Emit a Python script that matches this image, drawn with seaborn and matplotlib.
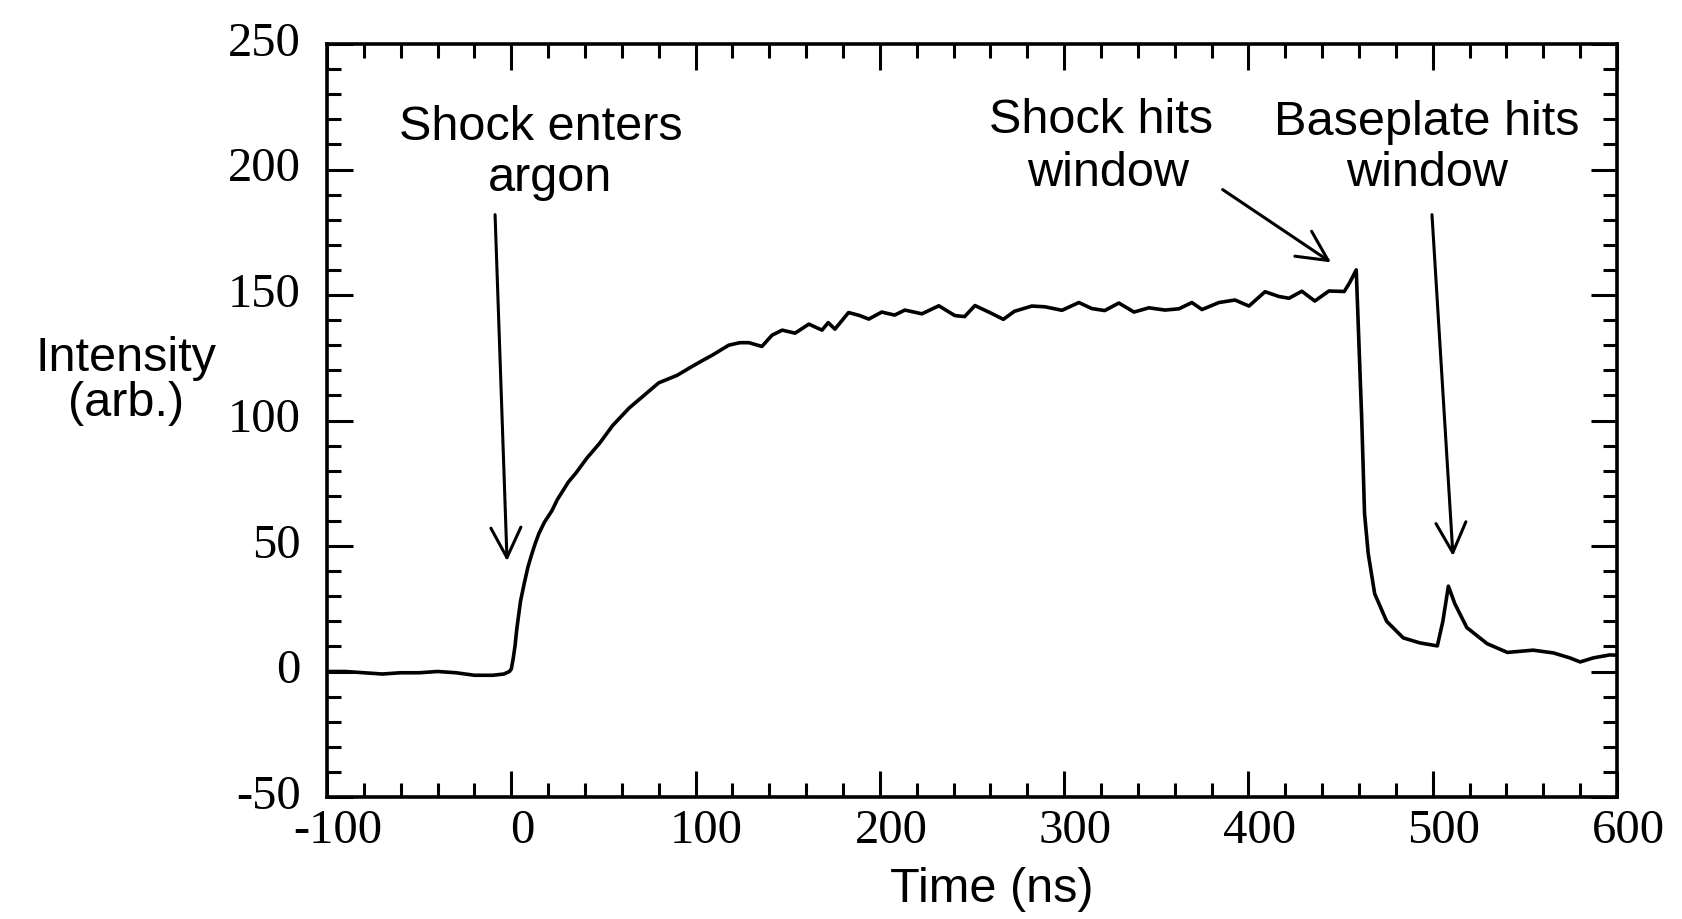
import numpy as np
import pandas as pd
import matplotlib
matplotlib.use("Agg")
import matplotlib.pyplot as plt
import matplotlib.transforms as mtransforms
from matplotlib.ticker import MultipleLocator
import seaborn as sns

# ---------------- data ----------------
time_ns = [-100, -90, -80, -70, -60, -50, -40, -30, -20, -10, -4, -1,
           0, 1, 2, 3, 5, 7, 9, 11, 13, 15, 18, 22, 25, 28, 31, 35, 41, 48,
           55, 64, 72, 80, 90,
           98, 104, 109, 118, 124, 129, 136, 141.5, 147, 154, 161.5, 168.6,
           172, 175.6, 183, 188.7, 194, 201, 208, 213.6, 222.8, 232, 240.7,
           246, 251.6, 260.8, 267, 273, 282.5, 289.6, 298.8, 308, 315, 322,
           329.7, 337.9, 346, 354.7, 362.3, 369.3, 374.8, 384, 392.7, 400.3,
           409, 416.6, 422, 429, 436, 443.7, 452, 455, 458.5, 459.5, 461.5,
           463, 465, 468.5, 475, 484, 493, 502.5, 505.5, 508.5, 512, 518.5,
           529.5, 540.5, 554.5, 565.5, 574.5, 580, 587, 596, 600]
intensity = [0, 0, -0.5, -1, -0.5, -0.5, 0, -0.5, -1.5, -1.5, -1, 0,
             1, 5, 10, 17, 28, 35, 41.5, 46.5, 51, 55, 59.5, 64, 68.5, 72,
             75.5, 79, 85, 91, 98, 105, 110,
             115, 118, 121.5, 124, 126, 130, 131, 131, 129.5, 134, 136, 134.8,
             138.4, 136, 139, 136.4, 143, 141.9, 140.4, 143.2, 142, 144,
             142.5, 145.7, 141.8, 141.4, 145.8, 142.6, 140.3, 143.5, 145.6,
             145.3, 143.9, 147, 144.6, 143.8, 146.8, 143.2, 144.9, 144, 144.5,
             147, 144.2, 147, 148, 145.6, 151.3, 149.4, 148.7, 151.5, 147.6,
             151.6, 151.4, 155, 160, 140, 100, 63, 47, 31, 20, 13.4, 11.4,
             10.2, 20, 34, 27, 17.5, 11.1, 7.6, 8.5, 7.4, 5.4, 3.8, 5.4, 6.6,
             6.5]

x_ticks = [-100, 0, 100, 200, 300, 400, 500, 600]
y_ticks = [-50, 0, 50, 100, 150, 200, 250]

# annotation text lines: (text, x, baseline y)
note_lines = ["Shock enters", "argon", "Shock hits", "window",
              "Baseplate hits", "window"]
note_x = [16, 21, 320, 324, 497, 497]
note_y = [212, 192, 215, 194, 214, 194]

# arrows: start and tip
arrow_start_x = [-8.8, 386, 499.6]
arrow_start_y = [182, 192, 182]
arrow_tip_x = [-2.3, 444.8, 511]
arrow_tip_y = [44, 163, 46]

x_label = "Time (ns)"
y_label = "Intensity\n(arb.)"

# ---------------- plot ----------------
sns.set_theme(style="white")
plt.rcParams["font.family"] = ["Liberation Sans", "DejaVu Sans"]
plt.rcParams["axes.unicode_minus"] = False

fig = plt.figure(figsize=(16.83, 9.2), dpi=100)
ax = fig.add_axes([327 / 1683, 1 - 798 / 920, 1290 / 1683, 753 / 920])

df = pd.DataFrame({"time": time_ns, "intensity": intensity})
sns.lineplot(data=df, x="time", y="intensity", ax=ax, color="black",
             linewidth=2.6, estimator=None)

ax.set_xlim(-100, 600)
ax.set_ylim(-50, 250)
ax.set_xticks(x_ticks)
ax.set_yticks(y_ticks)
ax.set_xticklabels([str(v) for v in x_ticks])
ax.set_yticklabels([str(v) for v in y_ticks])
ax.xaxis.set_minor_locator(MultipleLocator(20))
ax.yaxis.set_minor_locator(MultipleLocator(10))

for s in ax.spines.values():
    s.set_visible(True)
    s.set_color("black")
    s.set_linewidth(2.6)

ax.tick_params(which="both", direction="in", top=True, right=True,
               bottom=True, left=True, color="black", width=2.2)
ax.tick_params(which="major", length=19)
ax.tick_params(which="minor", length=10)
ax.tick_params(axis="x", which="major", pad=8, labelsize=35)
ax.tick_params(axis="y", which="major", pad=19, labelsize=35)

for lab in ax.get_xticklabels() + ax.get_yticklabels():
    lab.set_fontfamily(["Liberation Serif", "DejaVu Serif"])
    lab.set_color("black")

dx = mtransforms.ScaledTranslation(8 / 72, 0, fig.dpi_scale_trans)
for lab in ax.get_xticklabels():
    lab.set_transform(lab.get_transform() + dx)
dy = mtransforms.ScaledTranslation(0, 4.5 / 72, fig.dpi_scale_trans)
for lab in ax.get_yticklabels():
    lab.set_transform(lab.get_transform() + dy)

ax.set_xlabel(x_label, fontsize=35, color="black", va="center")
ax.xaxis.set_label_coords(0.5155, -0.121)
ax.set_ylabel(y_label, fontsize=35, color="black", rotation=0,
              ha="center", va="center", multialignment="center",
              linespacing=1.0)
ax.yaxis.set_label_coords(-0.156, 0.554)

for t, x, y in zip(note_lines, note_x, note_y):
    ax.text(x, y, t, fontsize=35, ha="center", va="baseline", color="black")

for sx, sy, tx, ty in zip(arrow_start_x, arrow_start_y, arrow_tip_x, arrow_tip_y):
    ax.annotate("", xy=(tx, ty), xytext=(sx, sy),
                arrowprops=dict(arrowstyle="->,head_length=0.6,head_width=0.3",
                                mutation_scale=36, lw=2.2, color="black",
                                shrinkA=0, shrinkB=0))

fig.savefig("out.png", dpi=100, facecolor="white")
